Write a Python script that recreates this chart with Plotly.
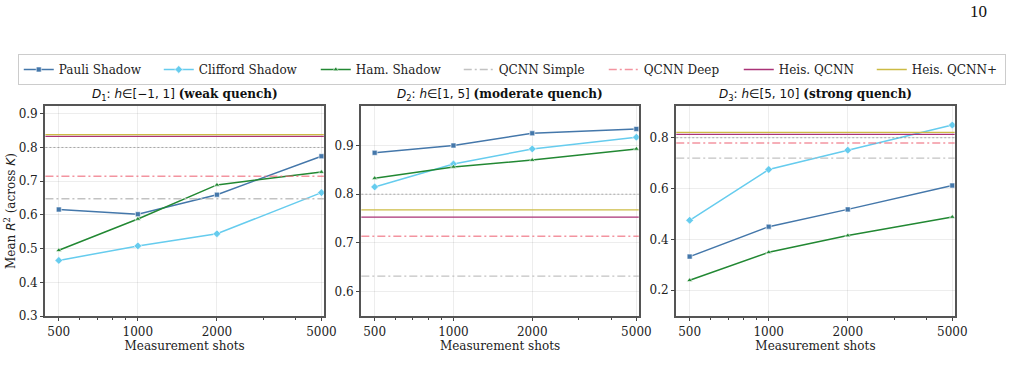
import plotly.graph_objects as go

shots = [500, 1000, 2000, 5000]
title_math = ["<i>D</i><sub>1</sub>: <i>h</i>∈[−1, 1]", "<i>D</i><sub>2</sub>: <i>h</i>∈[1, 5]",
              "<i>D</i><sub>3</sub>: <i>h</i>∈[5, 10]"]
title_bold = ["(weak quench)", "(moderate quench)", "(strong quench)"]
pauli = [[0.616, 0.602, 0.660, 0.774], [0.885, 0.900, 0.925, 0.934], [0.332, 0.450, 0.518, 0.612]]
clifford = [[0.465, 0.508, 0.544, 0.666], [0.815, 0.862, 0.893, 0.917], [0.475, 0.675, 0.751, 0.850]]
ham = [[0.495, 0.588, 0.689, 0.727], [0.833, 0.856, 0.870, 0.893], [0.239, 0.349, 0.415, 0.488]]
qcnn_simple = [0.648, 0.632, 0.720]
qcnn_deep = [0.715, 0.714, 0.779]
heis_qcnn = [0.833, 0.753, 0.813]
heis_qcnn_plus = [0.838, 0.768, 0.821]
ref_level = 0.8
y_ranges = [[0.3, 0.923], [0.55, 0.981], [0.098, 0.925]]
y_ticks = [[0.3, 0.4, 0.5, 0.6, 0.7, 0.8, 0.9], [0.6, 0.7, 0.8, 0.9], [0.2, 0.4, 0.6, 0.8]]

FONT = "DejaVu Serif"
W, H = 1019, 379
domains_px = [(46, 328), (366, 647), (685, 967)]
ytop, ybot = 108, 322

# (name, values, colour, marker, marker size, legend text width px)
series = [
    ("Pauli Shadow", pauli, "#4477AA", "square", 5, 95),
    ("Clifford Shadow", clifford, "#66CCEE", "diamond", 6, 112),
    ("Ham. Shadow", ham, "#228833", "triangle-up", 5, 98),
]
baselines = [
    ("QCNN Simple", qcnn_simple, "rgba(187,187,187,0.9)", "8px,3px,2px,3px", 1.3, 100),
    ("QCNN Deep", qcnn_deep, "rgba(238,102,119,0.7)", "8px,3px,2px,3px", 1.5, 90),
    ("Heis. QCNN", heis_qcnn, "#AA3377", "solid", 1.3, 88),
    ("Heis. QCNN+", heis_qcnn_plus, "#CCBB44", "solid", 1.3, 88),
]

fig = go.Figure()
shapes = []
annotations = []
for i in range(3):
    xa = "x" if i == 0 else f"x{i+1}"
    ya = "y" if i == 0 else f"y{i+1}"
    shapes.append(dict(type="line", xref=f"{xa} domain", yref=ya, x0=0, x1=1, y0=ref_level, y1=ref_level,
                       line=dict(color="rgba(120,120,120,0.6)", width=1, dash="2px,2px"), layer="above"))
    for name, vals, color, dash, w, lw in baselines:
        shapes.append(dict(type="line", xref=f"{xa} domain", yref=ya, x0=0, x1=1, y0=vals[i], y1=vals[i],
                           line=dict(color=color, width=w, dash=dash), layer="above"))
    for name, vals, color, sym, ms, lw in series:
        fig.add_trace(go.Scatter(
            x=shots, y=vals[i], mode="lines+markers", name=name, xaxis=xa, yaxis=ya,
            line=dict(color=color, width=1.5),
            marker=dict(symbol=sym, size=ms, color=color, line=dict(color="white", width=0.6)),
            showlegend=(i == 0), legendwidth=lw,
        ))

for name, vals, color, dash, w, lw in baselines:
    fig.add_trace(go.Scatter(x=[None], y=[None], mode="lines", name=name, legendwidth=lw,
                             line=dict(color=color, width=w, dash=dash), xaxis="x", yaxis="y"))

layout = dict(
    width=W, height=H, margin=dict(l=0, r=0, t=0, b=0),
    paper_bgcolor="white", plot_bgcolor="white",
    font=dict(family=FONT, size=12, color="#222"),
    showlegend=True,
    legend=dict(orientation="h", x=18 / W, y=1 - 55 / H, xanchor="left", yanchor="top",
                bordercolor="#cccccc", borderwidth=1, font=dict(size=12, family=FONT)),
)
for i in range(3):
    xk = "xaxis" if i == 0 else f"xaxis{i+1}"
    yk = "yaxis" if i == 0 else f"yaxis{i+1}"
    ya = "y" if i == 0 else f"y{i+1}"
    xa = "x" if i == 0 else f"x{i+1}"
    x0, x1 = domains_px[i]
    layout[xk] = dict(
        type="log", domain=[x0 / W, x1 / W], anchor=ya, range=[2.648, 3.708],
        tickmode="array", tickvals=shots, ticktext=[str(s) for s in shots],
        ticks="outside", ticklen=3.5, tickcolor="#444", tickfont=dict(size=12, family=FONT),
        showgrid=True, gridcolor="rgba(0,0,0,0.07)", gridwidth=1,
        showline=True, linecolor="#555", linewidth=1.5, mirror=True, zeroline=False,
        minor=dict(tickvals=[600, 700, 800, 900, 3000, 4000], ticks="outside", ticklen=2,
                   tickcolor="#444", showgrid=False),
        title=dict(text="Measurement shots", font=dict(size=12, family=FONT), standoff=0),
    )
    layout[yk] = dict(
        domain=[1 - ybot / H, 1 - ytop / H], anchor=xa, range=y_ranges[i],
        tickmode="array", tickvals=y_ticks[i], ticktext=[f"{v:.1f}" for v in y_ticks[i]],
        ticks="outside", ticklen=3.5, tickcolor="#444", tickfont=dict(size=12, family=FONT),
        showgrid=True, gridcolor="rgba(0,0,0,0.07)", gridwidth=1,
        showline=True, linecolor="#555", linewidth=1.5, mirror=True, zeroline=False,
    )
    text = (f"<span style='font-family:DejaVu Sans'>{title_math[i]}</span> <b>{title_bold[i]}</b>")
    annotations.append(dict(text=text, xref="paper", yref="paper",
                            x=(x0 + x1) / 2 / W, y=1 - 97 / H, xanchor="center", yanchor="middle",
                            showarrow=False, font=dict(size=12, family=FONT, color="#111")))

layout["yaxis"]["title"] = dict(text="Mean <span style='font-family:DejaVu Sans'><i>R</i></span><sup>2</sup> "
                                     "(across <span style='font-family:DejaVu Sans'><i>K</i></span>)",
                                font=dict(size=12, family=FONT), standoff=0)
annotations.append(dict(text="10", xref="paper", yref="paper", x=1002 / W, y=1 - 12 / H,
                        xanchor="right", yanchor="middle", showarrow=False,
                        font=dict(size=17, family="Liberation Serif", color="#111")))
layout["shapes"] = shapes
layout["annotations"] = annotations
fig.update_layout(**layout)
fig.write_html("out.html")
